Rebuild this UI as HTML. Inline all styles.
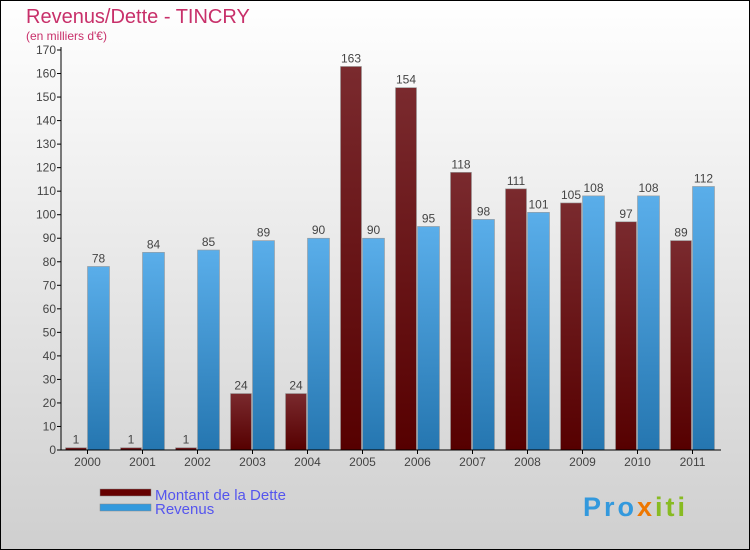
<!DOCTYPE html>
<html><head><meta charset="utf-8"><style>
body{margin:0;width:750px;height:550px;overflow:hidden}
svg{display:block;font-family:"Liberation Sans",sans-serif}
</style></head><body>
<svg width="750" height="550">
<defs>
<linearGradient id="bg" x1="0" y1="0" x2="0" y2="1"><stop offset="0" stop-color="#ffffff"/><stop offset="1" stop-color="#cfcfcf"/></linearGradient>
<linearGradient id="gd" x1="0" y1="0" x2="0" y2="1"><stop offset="0" stop-color="#7a2a2e"/><stop offset="1" stop-color="#560000"/></linearGradient>
<linearGradient id="gr" x1="0" y1="0" x2="0" y2="1"><stop offset="0" stop-color="#5aaeea"/><stop offset="1" stop-color="#2576b0"/></linearGradient>
</defs>
<rect x="0.5" y="0.5" width="749" height="549" fill="url(#bg)" stroke="#000"/>
<text x="26" y="23" font-size="20" fill="#c8306a">Revenus/Dette - TINCRY</text>
<text x="26" y="40" font-size="12" fill="#c8306a">(en milliers d'€)</text>
<g id="plot"></g>
<g>
<rect x="100" y="489" width="51" height="7" fill="#660000" stroke="#888" stroke-width="0.5"/>
<text x="155" y="500" font-size="15" fill="#5555ee">Montant de la Dette</text>
<rect x="100" y="504" width="51" height="7" fill="#3399dd" stroke="#888" stroke-width="0.5"/>
<text x="155" y="514" font-size="15" fill="#5555ee">Revenus</text>
</g>
<text x="583" y="516" font-size="27" font-weight="bold" letter-spacing="3" fill="#3399dd">Pro<tspan fill="#ee7700">x</tspan><tspan fill="#88bb22">iti</tspan></text>
</svg>
<script>
const years=["2000","2001","2002","2003","2004","2005","2006","2007","2008","2009","2010","2011"];
const dette=[1,1,1,24,24,163,154,118,111,105,97,89];
const revenus=[78,84,85,89,90,90,95,98,101,108,108,112];
const yTicks=[0,10,20,30,40,50,60,70,80,90,100,110,120,130,140,150,160,170];
const NS="http://www.w3.org/2000/svg";
const g=document.getElementById('plot');
const x0=61,step=55,yBase=450,yTop=50,yMax=170;
const y=v=>yBase-v*(yBase-yTop)/yMax;
function mk(t,a){const e=document.createElementNS(NS,t);for(const k in a)e.setAttribute(k,a[k]);g.appendChild(e);return e;}
yTicks.forEach(v=>{
 const l=mk('line',{x1:x0-4,x2:x0,y1:y(v),y2:y(v),stroke:'#000'});
 
 
 const t=mk('text',{x:x0-5,y:y(v)+4,'font-size':12,'text-anchor':'end',fill:'#444'});
 t.textContent=v;
 
 
});
years.forEach((yr,i)=>{
 const gx=x0+i*step;
 const hd=yBase-y(dette[i]);
 const b1=mk('rect',{x:gx+4.5,y:y(dette[i]),width:21,height:hd,fill:'url(#gd)',stroke:'#999','stroke-width':0.6});
 
 
 const b2=mk('rect',{x:gx+26.5,y:y(revenus[i]),width:22,height:yBase-y(revenus[i]),fill:'url(#gr)',stroke:'#999','stroke-width':0.6});
 
 
 const t1=mk('text',{x:gx+15,y:y(dette[i])-4,'font-size':12,'text-anchor':'middle',fill:'#444'});
 t1.textContent=dette[i];
 
 
 const t2=mk('text',{x:gx+37.5,y:y(revenus[i])-4,'font-size':12,'text-anchor':'middle',fill:'#444'});
 t2.textContent=revenus[i];
 
 
 const tk=mk('line',{x1:gx+26.5,x2:gx+26.5,y1:yBase,y2:yBase+4,stroke:'#000'});
 
 
 const xl=mk('text',{x:gx+26.5,y:yBase+16,'font-size':12,'text-anchor':'middle',fill:'#444'});
 xl.textContent=yr;
 
 
});
const ya=mk('line',{x1:x0,x2:x0,y1:yTop-3,y2:yBase,stroke:'#000'});


const xa=mk('line',{x1:x0,x2:x0+years.length*step,y1:yBase,y2:yBase,stroke:'#000'});


</script>
</body></html>
